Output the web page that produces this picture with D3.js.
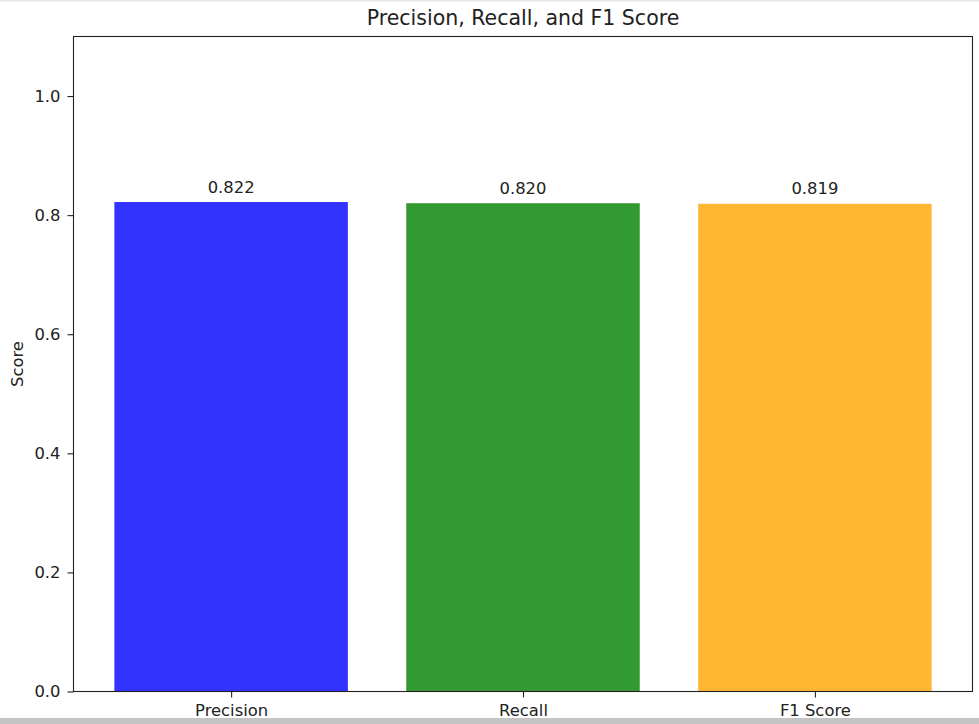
<!DOCTYPE html>
<html><head><meta charset="utf-8">
<script src="https://cdn.jsdelivr.net/npm/d3@7"></script>
<style>html,body{margin:0;padding:0;background:#fff;overflow:hidden}</style>
</head><body>
<svg id="c" width="979" height="724"></svg>
<script>
const categories = ["Precision", "Recall", "F1 Score"];
const values = [0.822, 0.820, 0.819];
const labels = ["0.822", "0.820", "0.819"];
const colors = ["#3333ff", "#339933", "#ffb733"];
const yTicks = [0.0, 0.2, 0.4, 0.6, 0.8, 1.0];

const svg = d3.select("#c");
const font = "DejaVu Sans, sans-serif";
const fs = "16.4px";
const L = 73.5, R = 972.5, T = 36.5, B = 691.5;

svg.append("rect").attr("x",0).attr("y",0).attr("width",979).attr("height",1.5).attr("fill","#e6e6e6");

const x = d3.scaleLinear().domain([-0.54, 2.54]).range([L, R]);
const y = d3.scaleLinear().domain([0, 1.1]).range([B, T]);
const bw = x(0.4) - x(0);

svg.selectAll("rect.bar").data(values).enter().append("rect")
  .attr("class","bar")
  .attr("x",(d,i)=>x(i)-bw)
  .attr("width",2*bw)
  .attr("y",d=>y(d))
  .attr("height",d=>y(0)-y(d))
  .attr("fill",(d,i)=>colors[i]);

svg.selectAll("text.val").data(values).enter().append("text")
  .attr("x",(d,i)=>x(i)).attr("y",d=>y(d)-9.5)
  .attr("text-anchor","middle").attr("font-family",font).attr("font-size",fs)
  .attr("fill","#222").text((d,i)=>labels[i]);

const yAxis = d3.axisLeft(y).tickValues(yTicks).tickFormat(d3.format(".1f")).tickSize(6).tickPadding(7);
const gy = svg.append("g").attr("transform",`translate(${L},0)`).call(yAxis);
gy.select(".domain").remove();
gy.selectAll("text").attr("font-family",font).attr("font-size",fs).attr("fill","#222");
gy.selectAll("line").attr("stroke","#222").attr("stroke-width",1.1);

const xAxis = d3.axisBottom(x).tickValues([0,1,2]).tickFormat((d)=>categories[d]).tickSize(6).tickPadding(7);
const gx = svg.append("g").attr("transform",`translate(0,${B})`).call(xAxis);
gx.select(".domain").remove();
gx.selectAll("text").attr("font-family",font).attr("font-size",fs).attr("fill","#222");
gx.selectAll("line").attr("stroke","#222").attr("stroke-width",1.1);

svg.append("rect").attr("x",L).attr("y",T).attr("width",R-L).attr("height",B-T)
  .attr("fill","none").attr("stroke","#222").attr("stroke-width",1.1);

svg.append("text").attr("x",(L+R)/2).attr("y",25).attr("text-anchor","middle")
  .attr("font-family",font).attr("font-size","20.5px").attr("fill","#222")
  .text("Precision, Recall, and F1 Score");

svg.append("text").attr("transform",`translate(23,${(T+B)/2}) rotate(-90)`)
  .attr("text-anchor","middle").attr("font-family",font).attr("font-size",fs).attr("fill","#222")
  .text("Score");

svg.append("rect").attr("x",0).attr("y",718).attr("width",979).attr("height",6).attr("fill","#c4c4c4");
</script>
</body></html>
